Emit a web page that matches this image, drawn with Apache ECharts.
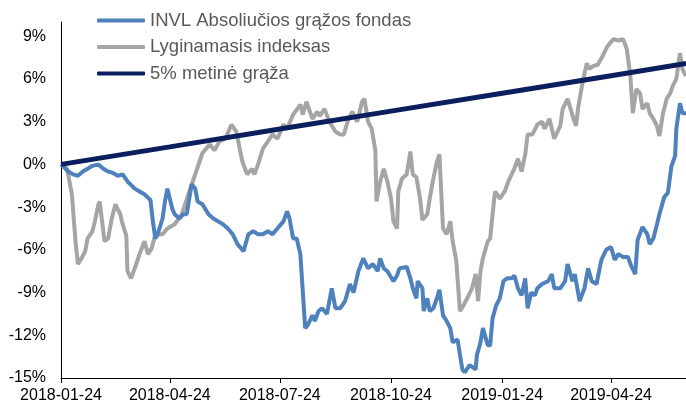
<!DOCTYPE html>
<html>
<head>
<meta charset="utf-8">
<script src="https://cdn.jsdelivr.net/npm/echarts@6/dist/echarts.min.js"></script>
<style>
  html, body { margin: 0; padding: 0; background: #fff; }
  #main { width: 686px; height: 408px; }
</style>
</head>
<body>
<div id="main"></div>
<script>
// axis: daily calendar dates from first to last day
var startDate = '2018-01-24';
var endDate = '2019-06-25';
var tickLabels = ['2018-01-24', '2018-04-24', '2018-07-24', '2018-10-24', '2019-01-24', '2019-04-24'];

// INVL Absoliučios grąžos fondas (day offset, %)
var fundDays = [0, 6, 10, 14, 18, 22, 26, 31, 35, 39, 43, 47, 51, 55, 61, 65, 69, 74, 76, 78, 80, 84, 86, 88, 92, 94, 98, 101,
  104, 108, 111, 113, 117, 122, 126, 130, 134, 138, 142, 146, 151, 155, 159, 163, 167, 171, 175, 179, 184, 187, 189, 192, 195, 198,
  202, 204, 208, 210, 213, 216, 220, 224, 227, 231, 235, 239, 242, 246, 250, 254, 258, 262, 264, 267, 270, 275, 278, 280, 286, 289,
  291, 294, 295, 299, 300, 303, 305, 308, 311, 313, 316, 319, 322, 324, 328, 332, 334, 338, 343, 344, 347, 349, 353, 355, 357, 360,
  363, 366, 369, 373, 375, 378, 381, 384, 386, 389, 392, 394, 398, 403, 406, 408, 413, 417, 419, 423, 425, 429, 433, 436, 439, 443,
  447, 451, 455, 458, 461, 465, 469, 472, 475, 477, 481, 485, 487, 490, 493, 495, 499, 502, 505, 508, 509, 512, 514, 517];
var fundValues = [0, -0.5, -0.7, -0.8, -0.5, -0.3, -0.1, 0, -0.3, -0.5, -0.6, -0.8, -0.7, -1.2, -1.7, -1.9, -2.1, -2.5, -4.0, -5.2, -4.9, -3.8, -2.6, -1.7, -3.1, -3.5, -3.8, -3.5,
  -3.5, -1.4, -1.7, -2.6, -2.8, -3.5, -3.8, -4.0, -4.2, -4.5, -4.9, -5.6, -6.1, -4.9, -4.7, -4.9, -4.9, -4.7, -4.9, -4.5, -4.0, -3.3, -3.8, -5.2, -5.2, -6.3,
  -11.5, -11.3, -10.6, -11.0, -10.3, -10.1, -10.5, -8.7, -10.1, -10.1, -9.6, -8.4, -9.0, -7.5, -6.6, -7.3, -7.0, -7.5, -6.6, -7.3, -7.5, -8.2, -7.8, -7.3, -7.2, -8.0,
  -8.7, -9.4, -8.2, -8.7, -10.3, -9.4, -10.3, -10.1, -9.4, -8.8, -10.6, -11.0, -11.5, -12.5, -12.3, -14.4, -14.6, -14.1, -14.4, -13.4, -12.5, -11.5, -12.7, -12.7, -10.8, -9.9,
  -9.4, -8.2, -8.0, -8.0, -7.8, -8.7, -9.2, -8.0, -10.1, -9.0, -9.2, -8.7, -8.4, -8.2, -7.7, -8.7, -8.7, -8.2, -7.0, -8.2, -7.7, -9.6, -8.7, -7.3, -8.2, -8.4,
  -6.7, -6.0, -5.8, -6.7, -6.3, -6.5, -6.5, -7.2, -7.7, -5.3, -4.4, -4.9, -5.6, -5.2, -4.2, -3.5, -2.3, -2.0, -0.1, 0.6, 2.5, 4.3, 3.6, 3.6];

// Lyginamasis indeksas
var benchDays = [0, 5, 9, 12, 14, 17, 20, 22, 26, 28, 31, 32, 36, 39, 42, 45, 49, 51, 54, 55, 58, 61, 65, 69, 72, 75, 78, 84, 88,
  94, 100, 105, 109, 113, 117, 123, 127, 131, 136, 141, 145, 150, 154, 158, 160, 163, 167, 171, 175, 179, 184, 187, 192, 198, 200,
  203, 208, 212, 214, 218, 222, 227, 231, 234, 237, 241, 245, 249, 251, 254, 257, 260, 261, 264, 267, 270, 273, 275, 278, 279, 282,
  286, 289, 291, 294, 297, 299, 303, 305, 308, 311, 313, 316, 319, 322, 324, 327, 330, 333, 336, 340, 343, 345, 347, 349, 353, 355,
  357, 359, 363, 367, 370, 375, 378, 381, 384, 386, 390, 394, 398, 400, 404, 408, 413, 415, 419, 424, 426, 428, 432, 435, 437, 440,
  444, 448, 452, 457, 461, 465, 468, 471, 473, 476, 479, 481, 485, 487, 490, 493, 495, 498, 501, 504, 506, 509, 512, 514, 517];
var benchValues = [0, -0.3, -2.1, -5.4, -7.0, -6.6, -6.1, -5.2, -4.7, -4.0, -2.8, -2.6, -5.4, -5.2, -3.8, -2.8, -3.5, -4.2, -5.0, -7.5, -8.0, -7.3, -6.3, -5.4, -6.3, -5.9, -4.9, -4.9, -4.5,
  -4.2, -3.5, -2.2, -1.2, -0.2, 0.8, 1.4, 1.0, 1.6, 1.8, 2.8, 2.3, 0.2, -0.7, -0.3, -0.7, 0, 1.1, 1.6, 2.1, 1.8, 2.8, 2.5, 3.5, 4.2, 3.5,
  4.4, 3.2, 3.7, 3.4, 3.9, 3.0, 2.3, 2.1, 2.1, 3.0, 3.7, 3.0, 4.4, 4.6, 3.0, 2.5, 1.0, -2.6, -1.2, -0.3, -1.2, -2.4, -4.0, -4.5, -1.9, -1.0,
  -0.7, 0.9, -0.7, -0.9, -2.4, -3.9, -3.5, -2.4, -1.0, 0.2, 0.7, -4.5, -4.9, -4.0, -5.4, -6.8, -10.3, -9.9, -9.4, -8.7, -7.7, -9.6, -7.5, -6.6, -5.4, -5.2,
  -3.5, -1.9, -2.4, -1.9, -1.2, -0.3, 0.4, -0.5, 0.7, 2.1, 2.1, 2.8, 3.0, 2.5, 3.2, 1.8, 2.7, 3.9, 4.6, 3.2, 2.7, 4.1, 6.0, 7.1, 6.7, 6.9,
  7.0, 7.6, 8.3, 8.8, 8.7, 8.8, 8.1, 6.2, 3.6, 5.3, 5.0, 3.9, 4.3, 3.6, 3.2, 2.7, 2.0, 3.6, 4.6, 5.0, 5.5, 6.0, 7.8, 6.7, 6.2];

// 5% metinė grąža
var targetDays = [0, 90, 181, 273, 365, 455, 517];
var targetValues = [0, 1.23, 2.48, 3.74, 5.0, 6.23, 7.08];

var seriesNames = ['INVL Absoliučios grąžos fondas', 'Lyginamasis indeksas', '5% metinė grąža'];
var seriesColors = ['#4f81bd', '#a5a5a5', '#0b1f5e'];

function buildDates(from, to) {
    var out = [];
    var d = new Date(from + 'T00:00:00Z');
    var end = new Date(to + 'T00:00:00Z');
    while (d <= end) {
        out.push(d.toISOString().slice(0, 10));
        d.setUTCDate(d.getUTCDate() + 1);
    }
    return out;
}
function pairs(days, values) {
    return days.map(function (d, i) { return [d, values[i]]; });
}

var dates = buildDates(startDate, endDate);
var showTick = function (idx, val) { return tickLabels.indexOf(val) >= 0; };

var myChart = echarts.init(document.getElementById('main'));

var option = {
    animation: false,
    backgroundColor: '#fff',
    grid: { left: 61, right: 0, top: 22, bottom: 30 },
    legend: {
        orient: 'vertical',
        left: 97,
        top: 11,
        padding: 0,
        icon: 'roundRect',
        itemWidth: 48,
        itemHeight: 4,
        itemGap: 7.5,
        textStyle: { fontFamily: 'Liberation Sans, Arial', fontSize: 18.5, color: '#595959' },
        data: seriesNames
    },
    xAxis: {
        type: 'category',
        data: dates,
        boundaryGap: false,
        axisLine: { onZero: false, lineStyle: { color: '#000', width: 1 } },
        axisTick: { show: true, interval: showTick, length: 5, lineStyle: { color: '#000' } },
        axisLabel: {
            interval: showTick,
            margin: 10,
            fontFamily: 'Liberation Sans, Arial',
            fontSize: 16,
            color: '#000'
        }
    },
    yAxis: {
        type: 'value',
        min: -15,
        max: 10,
        interval: 3,
        axisLine: { show: true, lineStyle: { color: '#000', width: 1 } },
        axisTick: { show: false },
        splitLine: { show: false },
        axisLabel: {
            showMaxLabel: false,
            margin: 15,
            fontFamily: 'Liberation Sans, Arial',
            fontSize: 16,
            color: '#000',
            formatter: function (v) { return v + '%'; }
        }
    },
    series: [
        {
            name: seriesNames[0],
            type: 'line',
            data: pairs(fundDays, fundValues),
            symbol: 'none',
            z: 3,
            lineStyle: { color: seriesColors[0], width: 4 },
            itemStyle: { color: seriesColors[0] }
        },
        {
            name: seriesNames[1],
            type: 'line',
            data: pairs(benchDays, benchValues),
            symbol: 'none',
            z: 2,
            lineStyle: { color: seriesColors[1], width: 4 },
            itemStyle: { color: seriesColors[1] }
        },
        {
            name: seriesNames[2],
            type: 'line',
            data: pairs(targetDays, targetValues),
            symbol: 'none',
            z: 4,
            lineStyle: { color: seriesColors[2], width: 5 },
            itemStyle: { color: seriesColors[2] }
        }
    ]
};

myChart.setOption(option);
</script>
</body>
</html>
